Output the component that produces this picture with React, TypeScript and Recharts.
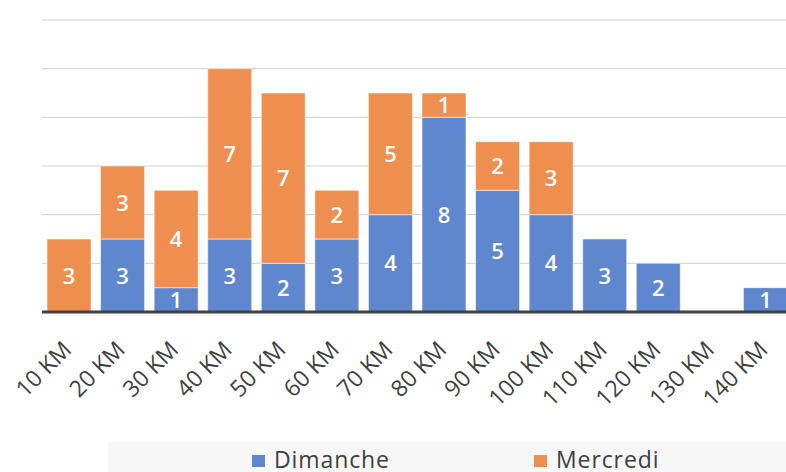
import React from "react";
import { BarChart, Bar, XAxis, YAxis, CartesianGrid, LabelList } from "recharts";

const categories = ["10 KM", "20 KM", "30 KM", "40 KM", "50 KM", "60 KM", "70 KM", "80 KM", "90 KM", "100 KM", "110 KM", "120 KM", "130 KM", "140 KM"];
const dimanche = [0, 3, 1, 3, 2, 3, 4, 8, 5, 4, 3, 2, 0, 1];
const mercredi = [3, 3, 4, 7, 7, 2, 5, 1, 2, 3, 0, 0, 0, 0];
const yTicks = [0, 2, 4, 6, 8, 10, 12];

const BLUE = "#5F87CD";
const ORANGE = "#EF8F4F";
const FONT = "'Open Sans', sans-serif";

const data = categories.map((name, i) => ({ name, dimanche: dimanche[i], mercredi: mercredi[i] }));

function KmTick({ x, y, payload }: any) {
  return (
    <g transform={`translate(${x + 4},${y + 39})`}>
      <text transform="rotate(-45)" textAnchor="end" fill="#404040" fontSize={23} fontFamily={FONT}>
        {payload.value}
      </text>
    </g>
  );
}

function SegLabel({ x, y, width, height, value }: any) {
  if (!value) return null;
  return (
    <text x={x + width / 2} y={y + height / 2} dy={8} textAnchor="middle" fill="#fff" fontSize={22} fontWeight={600} fontFamily={FONT}>
      {value}
    </text>
  );
}

const legendText = { position: "absolute" as const, top: 7, fontSize: 23, letterSpacing: 0.9, color: "#404040", lineHeight: "20px" };

export default function App() {
  return (
    <div style={{ position: "absolute", left: 0, top: 0, width: 786, height: 472, overflow: "hidden", background: "#fff", fontFamily: FONT }}>
      <BarChart width={800} height={472} data={data} margin={{ top: 20, right: 8, left: 42, bottom: 0 }} barSize={44}>
        <CartesianGrid vertical={false} stroke="#cfcfcf" horizontalValues={yTicks} />
        <YAxis hide domain={[0, 12]} ticks={yTicks} />
        <XAxis dataKey="name" interval={0} height={160} tickLine={false} tickSize={0} tickMargin={0}
          axisLine={{ stroke: "#404040", strokeWidth: 3 }} tick={<KmTick />} />
        <Bar dataKey="dimanche" stackId="a" fill={BLUE} stroke="rgba(255,255,255,0.55)" strokeWidth={1} isAnimationActive={false}>
          <LabelList dataKey="dimanche" content={<SegLabel />} />
        </Bar>
        <Bar dataKey="mercredi" stackId="a" fill={ORANGE} stroke="rgba(255,255,255,0.55)" strokeWidth={1} isAnimationActive={false}>
          <LabelList dataKey="mercredi" content={<SegLabel />} />
        </Bar>
      </BarChart>
      <div style={{ position: "absolute", left: 108, top: 442, width: 678, height: 30, background: "#f7f7f7" }}>
        <div style={{ position: "absolute", left: 144, top: 13, width: 13, height: 12, background: BLUE }} />
        <div style={{ ...legendText, left: 166 }}>Dimanche</div>
        <div style={{ position: "absolute", left: 426, top: 13, width: 13, height: 12, background: ORANGE }} />
        <div style={{ ...legendText, left: 448 }}>Mercredi</div>
      </div>
    </div>
  );
}
